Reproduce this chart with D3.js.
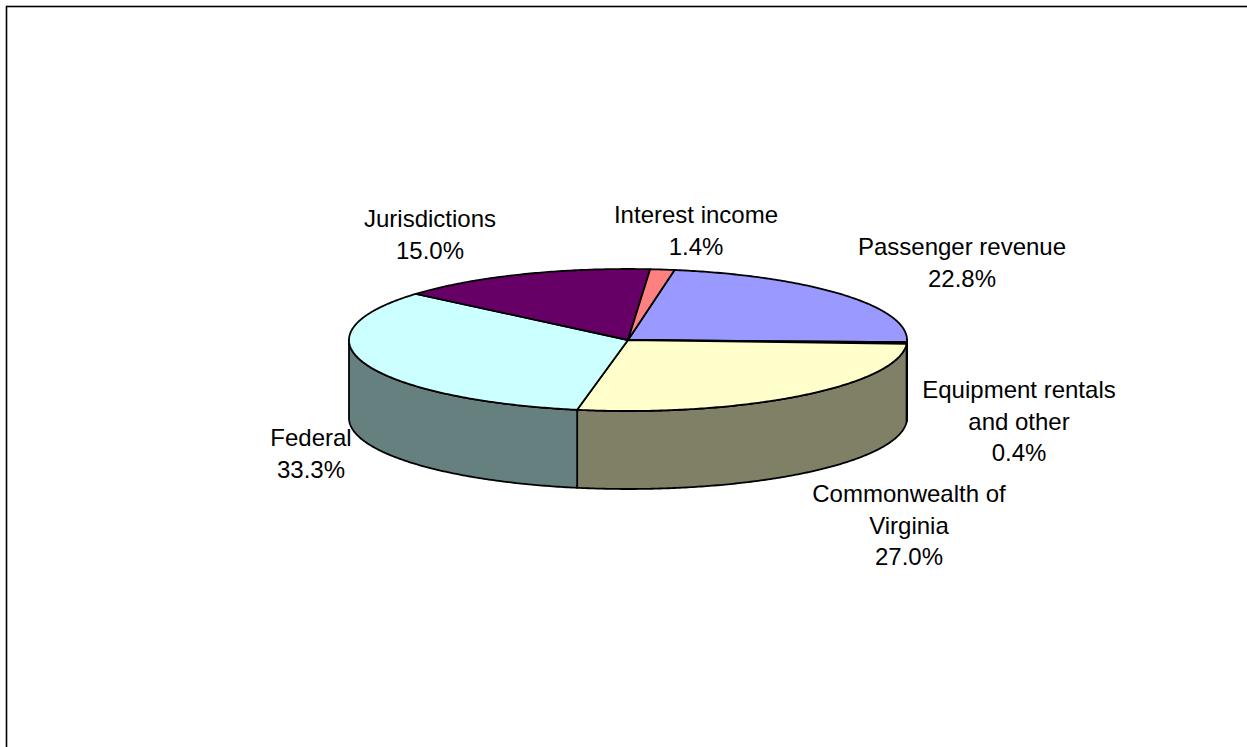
<!DOCTYPE html>
<html>
<head>
<meta charset="utf-8">
<script src="https://cdn.jsdelivr.net/npm/d3@7"></script>
<style>
  html, body { margin: 0; padding: 0; background: #fff; }
  svg { display: block; }
  text { font-family: "Liberation Sans", Arial, sans-serif; fill: #000; }
</style>
</head>
<body>
<svg id="chart" width="1247" height="747"></svg>
<script>
// ---- data ----
const categories = ["Passenger revenue", "Equipment rentals and other", "Commonwealth of Virginia", "Federal", "Jurisdictions", "Interest income"];
const values = [22.8, 0.4, 27.0, 33.3, 15.0, 1.4];
const labelLines = [
  ["Passenger revenue", "22.8%"],
  ["Equipment rentals", "and other", "0.4%"],
  ["Commonwealth of", "Virginia", "27.0%"],
  ["Federal", "33.3%"],
  ["Jurisdictions", "15.0%"],
  ["Interest income", "1.4%"]
];
const topColors = ["#9999FF", "#993366", "#FFFFCC", "#CCFFFF", "#660066", "#FF8080"];

// ---- layout ----
const W = 1247, H = 747;
const cx = 628, cy = 340, rx = 279, ry = 71, depth = 78;
const startDeg = 9.6;
const fontSize = 24, lineH = 31.5;
const labelPos = [
  [962, 246], [1019, 389], [909, 493], [311, 437], [430, 218], [696, 214]
];

const svg = d3.select("#chart");

svg.append("rect")
  .attr("x", 6.5).attr("y", 6.5)
  .attr("width", W + 10).attr("height", H + 10)
  .attr("fill", "#fff").attr("stroke", "#000").attr("stroke-width", 1.6);

const pie = d3.pie().sort(null).value(d => d)
  .startAngle(startDeg * Math.PI / 180)
  .endAngle(startDeg * Math.PI / 180 + 2 * Math.PI);
const arcs = pie(values);

const px = a => cx + rx * Math.sin(a);
const py = (a, dy = 0) => cy - ry * Math.cos(a) + dy;

function arcPts(a0, a1, dy) {
  const n = Math.max(2, Math.ceil(Math.abs(a1 - a0) / 0.01));
  const pts = [];
  for (let i = 0; i <= n; i++) {
    const a = a0 + (a1 - a0) * i / n;
    pts.push([px(a), py(a, dy)]);
  }
  return pts;
}

const darker = c => { const k = d3.rgb(c); return d3.rgb(k.r * 0.5, k.g * 0.5, k.b * 0.5).toString(); };

// sides (front half: PI/2 .. 3PI/2)
const gSide = svg.append("g");
arcs.forEach((d, i) => {
  let a0 = d.startAngle, a1 = d.endAngle;
  // consider both the angle and angle - 2PI
  [0, -2 * Math.PI, 2 * Math.PI].forEach(off => {
    const s = Math.max(a0 + off, Math.PI / 2), e = Math.min(a1 + off, 3 * Math.PI / 2);
    if (e > s) {
      const top = arcPts(s, e, 0);
      const bot = arcPts(e, s, depth);
      const path = d3.line()(top.concat(bot)) + "Z";
      gSide.append("path").attr("d", path)
        .attr("fill", darker(topColors[i]))
        .attr("stroke", "#000").attr("stroke-width", 1.8)
        .attr("stroke-linejoin", "round");
    }
  });
});

// tops
const gTop = svg.append("g");
arcs.forEach((d, i) => {
  const pts = [[cx, cy]].concat(arcPts(d.startAngle, d.endAngle, 0));
  gTop.append("path").attr("d", d3.line()(pts) + "Z")
    .attr("fill", topColors[i])
    .attr("stroke", "#000").attr("stroke-width", 1.8)
    .attr("stroke-linejoin", "round");
});

// labels
const gLab = svg.append("g").attr("font-size", fontSize).attr("text-anchor", "middle");
labelLines.forEach((lines, i) => {
  const t = gLab.append("text").attr("x", labelPos[i][0]).attr("y", labelPos[i][1])
    .attr("dominant-baseline", "central");
  lines.forEach((l, j) => {
    t.append("tspan").attr("x", labelPos[i][0]).attr("y", labelPos[i][1] + j * lineH).text(l);
  });
});
</script>
</body>
</html>
